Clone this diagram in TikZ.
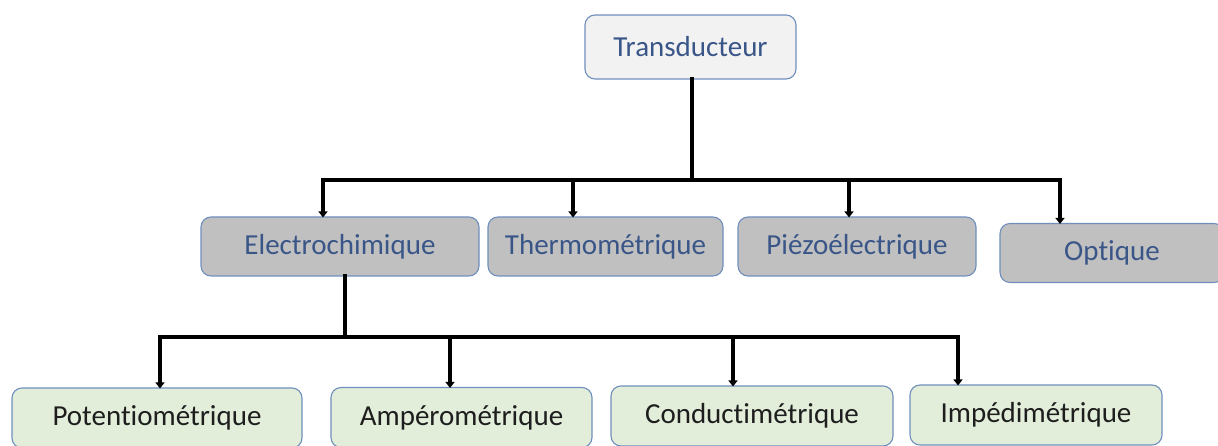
\documentclass[tikz,border=0pt]{standalone}
\usepackage{fontspec}
\setmainfont{Carlito}[Ligatures=NoCommon]
\usetikzlibrary{arrows.meta}

\definecolor{boxline}{HTML}{6F8FBC}
\definecolor{topfill}{HTML}{F2F2F2}
\definecolor{midfill}{HTML}{C0C0C0}
\definecolor{lowfill}{HTML}{E3EEDA}
\definecolor{bluetext}{HTML}{3A5688}
\definecolor{darktext}{HTML}{1E1E1E}

\tikzset{
  box/.style={draw=boxline, line width=1.1pt, rounded corners=10pt,
              inner sep=0pt, font=\fontsize{29}{34}\selectfont},
  topbox/.style={box, fill=topfill, text=bluetext},
  midbox/.style={box, fill=midfill, text=bluetext},
  lowbox/.style={box, fill=lowfill, text=darktext},
  bar/.style={line width=4.8pt, line cap=rect},
  arr/.style={line width=4.8pt, -{Triangle[length=6pt,width=9pt]}, shorten >=-1pt}
}

\begin{document}
\begin{tikzpicture}[x=1pt,y=-1pt]
  \useasboundingbox (0,0) rectangle (1218,446);
  \clip (0,0) rectangle (1218,446);

  % root
  \node[topbox, minimum width=211pt, minimum height=64pt] (tr) at (690.5,47) {Transducteur};

  % second level
  \node[midbox, minimum width=278pt, minimum height=59pt] (el) at (340,246.5) {Electrochimique};
  \node[midbox, minimum width=235pt, minimum height=59pt] (th) at (605.5,246.5) {\raisebox{3pt}{Thermométrique}};
  \node[midbox, minimum width=238pt, minimum height=59pt] (pz) at (857,246.5) {Piézoélectrique};
  \node[midbox, minimum width=224pt, minimum height=59pt] (op) at (1112,253) {Optique};

  % third level
  \node[lowbox, minimum width=290pt, minimum height=60pt] (po) at (157,418) {Potentiométrique};
  \node[lowbox, minimum width=261pt, minimum height=60pt] (am) at (461.5,417.5) {Ampérométrique};
  \node[lowbox, minimum width=282pt, minimum height=60pt] (co) at (752,416) {Conductimétrique};
  \node[lowbox, minimum width=252pt, minimum height=60pt] (im) at (1036,415) {Impédimétrique};

  % upper tree
  \coordinate (b1) at (692,180);
  \coordinate (j1) at (323,180);
  \coordinate (j2) at (573,180);
  \coordinate (j3) at (849,180);
  \coordinate (j4) at (1060,180);
  \draw[bar] (tr.south -| b1) -- (b1);
  \draw[bar] (j1) -- (j4);
  \draw[arr] (j1) -- (j1 |- el.north);
  \draw[arr] (j2) -- (j2 |- th.north);
  \draw[arr] (j3) -- (j3 |- pz.north);
  \draw[arr] (j4) -- (j4 |- op.north);

  % lower tree
  \coordinate (b2) at (345,337);
  \coordinate (k1) at (160,337);
  \coordinate (k2) at (450,337);
  \coordinate (k3) at (733,337);
  \coordinate (k4) at (958,337);
  \draw[bar] (el.south -| b2) -- (b2);
  \draw[bar] (k1) -- (k4);
  \draw[arr] (k1) -- (k1 |- po.north);
  \draw[arr] (k2) -- (k2 |- am.north);
  \draw[arr] (k3) -- (k3 |- co.north);
  \draw[arr] (k4) -- (k4 |- im.north);
\end{tikzpicture}
\end{document}
